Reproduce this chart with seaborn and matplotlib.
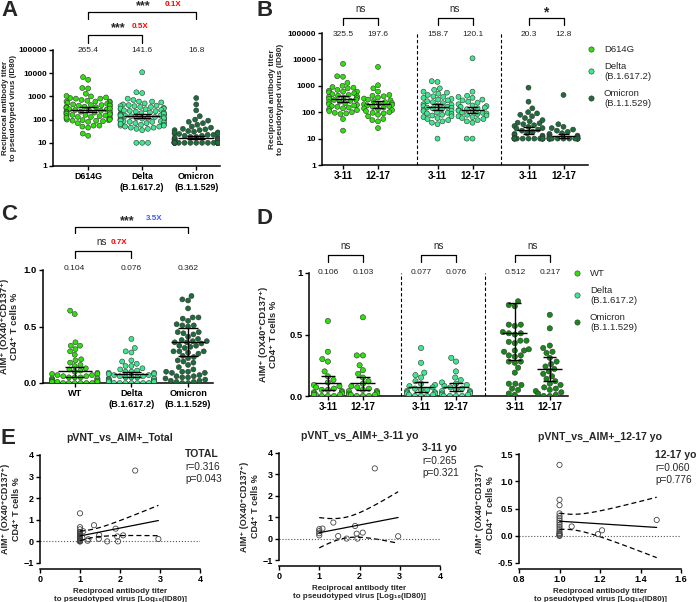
import warnings
import numpy as np
import pandas as pd
import matplotlib
matplotlib.use('Agg')
import matplotlib.pyplot as plt
import seaborn as sns
from matplotlib.lines import Line2D
from matplotlib.transforms import blended_transform_factory

warnings.filterwarnings('ignore')

# ---------------- data ----------------
variants = ['D614G', 'Delta', 'Omicron']
variant_ticks = ['D614G', 'Delta\n(B.1.617.2)', 'Omicron\n(B.1.1.529)']
aim_names = ['WT', 'Delta', 'Omicron']
aim_ticks = ['WT', 'Delta\n(B.1.617.2)', 'Omicron\n(B.1.1.529)']
age_ticks = ['3-11', '12-17', '3-11', '12-17', '3-11', '12-17']

# pseudovirus ID80 titres, per variant and age group
d614g_311 = [6800, 2300, 2200, 1300, 1000, 900, 850, 800, 700, 650, 600, 600, 560, 520, 480,
             450, 420, 400, 380, 360, 340, 320, 300, 290, 270, 250, 240, 220, 200, 190,
             180, 170, 160, 150, 140, 130, 120, 110, 100, 95, 90, 85, 55, 20]
d614g_1217 = [5200, 1050, 800, 600, 450, 420, 400, 360, 330, 300, 280, 260, 240, 220, 210,
              200, 190, 180, 170, 160, 150, 140, 130, 120, 110, 100, 95, 90, 80, 70,
              55, 50, 45, 25]
delta_311 = [1500, 1400, 800, 700, 600, 550, 500, 450, 400, 380, 350, 320, 300, 280, 260,
             240, 220, 200, 190, 180, 170, 160, 150, 145, 140, 130, 120, 115, 110, 100,
             95, 90, 85, 80, 75, 70, 65, 60, 55, 50, 45, 40, 35, 10]
delta_1217 = [11000, 600, 420, 380, 350, 300, 280, 250, 230, 200, 180, 170, 160, 150, 140,
              130, 120, 115, 110, 100, 95, 90, 85, 80, 75, 70, 65, 60, 55, 50,
              45, 40, 10, 10]
omi_311 = [850, 250, 140, 100, 90, 80, 70, 60, 50, 45, 40, 38, 35, 32, 30,
           28, 25, 24, 22, 20, 18, 16, 15, 14, 13, 12, 11, 10, 10, 10,
           10, 10, 10, 10, 10, 10, 10, 10, 10, 10, 10, 10]
omi_1217 = [450, 35, 28, 25, 22, 20, 18, 16, 15, 14, 13, 12, 12, 11, 11,
            10, 10, 10, 10, 10, 10, 10, 10, 10, 10, 10, 10, 10, 10, 10]

a_gmt = [265.4, 141.6, 16.8]
a_lo = [205, 112, 14.2]
a_hi = [340, 180, 19.8]
a_fold = ['0.5X', '0.1X']
b_gmt = [325.5, 197.6, 158.7, 120.1, 20.3, 12.8]
b_lo = [250, 145, 120, 90, 15.5, 10.8]
b_hi = [420, 265, 210, 160, 26.5, 15.5]
b_sig = ['ns', 'ns', '*']

# AIM+ CD4 T cells %, per variant and age group
wt_311 = [0.61, 0.36, 0.30, 0.28, 0.20, 0.16, 0.13, 0.11, 0.09, 0.08, 0.07, 0.06, 0.05,
          0.05, 0.04, 0.03, 0.03, 0.02, 0.02, 0.01, 0.01, 0.01, 0.00, 0.00, 0.00]
wt_1217 = [0.64, 0.33, 0.33, 0.25, 0.21, 0.18, 0.15, 0.12, 0.10, 0.08, 0.07, 0.06, 0.05,
           0.04, 0.04, 0.03, 0.02, 0.02, 0.01, 0.01, 0.01, 0.00, 0.00, 0.00]
dl_311 = [0.39, 0.27, 0.19, 0.17, 0.15, 0.12, 0.10, 0.09, 0.08, 0.07, 0.06, 0.05, 0.05,
          0.04, 0.03, 0.03, 0.02, 0.02, 0.01, 0.01, 0.00, 0.00, 0.00]
dl_1217 = [0.31, 0.28, 0.20, 0.15, 0.13, 0.11, 0.10, 0.09, 0.08, 0.07, 0.06, 0.05, 0.04,
           0.04, 0.03, 0.02, 0.02, 0.01, 0.01, 0.00, 0.00, 0.00, 0.00]
om_311 = [0.77, 0.74, 0.73, 0.58, 0.58, 0.57, 0.52, 0.51, 0.51, 0.50, 0.45, 0.45, 0.44,
          0.43, 0.38, 0.37, 0.37, 0.36, 0.33, 0.33, 0.32, 0.28, 0.28, 0.27, 0.23, 0.19,
          0.10, 0.10, 0.09, 0.06, 0.05, 0.02, 0.01]
om_1217 = [0.66, 0.55, 0.41, 0.39, 0.36, 0.35, 0.31, 0.28, 0.26, 0.24, 0.22, 0.20, 0.18,
           0.16, 0.14, 0.12, 0.10, 0.09, 0.07, 0.06, 0.05, 0.04, 0.03, 0.02, 0.01, 0.00, 0.00]

c_mean = [0.104, 0.076, 0.362]
c_lo = [0.05, 0.055, 0.235]
c_hi = [0.14, 0.10, 0.49]
d_mean = [0.106, 0.103, 0.077, 0.076, 0.512, 0.217]
d_lo = [0.05, 0.05, 0.035, 0.04, 0.29, 0.12]
d_hi = [0.16, 0.155, 0.11, 0.105, 0.756, 0.317]
d_sig = ['ns', 'ns', 'ns']

# correlation pVNT (log10 ID80) vs AIM+ %
e311_x = [1.00, 1.00, 1.00, 1.00, 1.08, 1.35, 1.47, 1.68, 1.89, 1.93, 1.95, 2.08, 2.38, 2.96]
e311_y = [0.44, 0.35, 0.25, 0.15, 0.47, 0.75, 0.12, 0.00, 0.59, 0.23, 0.00, 0.28, 3.28, 0.11]
e1217_x = [1.00, 1.00, 1.00, 1.00, 1.00, 1.00, 1.00, 1.00, 1.00, 1.00, 1.00, 1.00, 1.00,
           1.00, 1.00, 1.00, 1.00, 1.06, 1.19, 1.21, 1.48]
e1217_y = [1.30, 0.66, 0.56, 0.41, 0.36, 0.32, 0.28, 0.24, 0.20, 0.16, 0.12, 0.08, 0.05,
           0.03, 0.02, 0.00, 0.00, 0.17, 0.03, 0.10, 0.29]
e_titles = ['pVNT_vs_AIM+_Total', 'pVNT_vs_AIM+_3-11 yo', 'pVNT_vs_AIM+_12-17 yo']
e_names = ['TOTAL', '3-11 yo', '12-17 yo']
e_r = ['0.316', '0.265', '0.060']
e_p = ['0.043', '0.321', '0.776']

# ---------------- style ----------------
sns.set_style('ticks')
plt.rcParams['font.family'] = ['Liberation Sans', 'DejaVu Sans']
plt.rcParams['axes.edgecolor'] = 'black'
plt.rcParams['xtick.color'] = 'black'
plt.rcParams['ytick.color'] = 'black'

pal_ab = {'D614G': '#2ee00c', 'Delta': '#3ee88e', 'Omicron': '#1b6e3a'}
pal_c = {'WT': '#2ee00c', 'Delta': '#3ee88e', 'Omicron': '#1b6e3a'}
pal_d = {'WT': '#2ee00c', 'Delta': '#3ee88e', 'Omicron': '#168a16'}

W, H = 696, 602
fig = plt.figure(figsize=(W / 100, H / 100), dpi=100)


def fx(px):
    return px / W


def fy(py):
    return 1 - py / H


def add_ax(l, t, r, b):
    return fig.add_axes([fx(l), fy(b), (r - l) / W, (b - t) / H])


def style(ax, xfs=7, yfs=6):
    sns.despine(ax=ax)
    for s in ['left', 'bottom']:
        ax.spines[s].set_linewidth(1.1)
    ax.tick_params(length=3, width=1, pad=1.5)
    ax.tick_params(axis='x', labelsize=xfs)
    ax.tick_params(axis='y', labelsize=yfs)
    for lbl in ax.get_xticklabels() + ax.get_yticklabels():
        lbl.set_fontweight('bold')


def bracket(ax, x1, x2, ytop, ybot):
    tr = blended_transform_factory(ax.transData, fig.transFigure)
    ax.plot([x1, x1, x2, x2], [fy(ybot), fy(ytop), fy(ytop), fy(ybot)],
            transform=tr, color='black', lw=0.9, clip_on=False)


def top_labels(ax, xs, vals, ypix, fmt):
    tr = blended_transform_factory(ax.transData, fig.transFigure)
    for x, v in zip(xs, vals):
        ax.text(x, fy(ypix), fmt.format(v), transform=tr, ha='center', va='center',
                fontsize=6, color='#222222')


def mean_bars(ax, xs, m, lo, hi, half, cap):
    for x, c, l, h in zip(xs, m, lo, hi):
        ax.hlines(c, x - half, x + half, color='black', lw=1.0, zorder=5)
        ax.vlines(x, l, h, color='black', lw=1.0, zorder=5)
        ax.hlines([l, h], x - cap, x + cap, color='black', lw=1.0, zorder=5)


def legend(ax, names, pal, labels, xpix, ypix):
    handles = [Line2D([], [], ls='none', marker='o', markersize=3.8, markerfacecolor=pal[n],
                      markeredgecolor='#333333', markeredgewidth=0.4) for n in names]
    ax.legend(handles, labels, loc='upper left', bbox_to_anchor=(fx(xpix), fy(ypix)),
              bbox_transform=fig.transFigure, frameon=False, fontsize=6.8, handlelength=1.0,
              handletextpad=0.9, labelspacing=0.8, borderpad=0, borderaxespad=0)


swarm_kw = dict(edgecolor='#333333', linewidth=0.4, legend=False)
aim_label = 'AIM⁺ (OX40⁺CD137⁺)\nCD4⁺ T cells %'
titer_label = 'Reciprocal antibody titer\nto pseudotyped virus (ID80)'

# ---------------- A ----------------
axA = add_ax(53, 50, 220, 166)
axA.set_yscale('log')
dfA = pd.DataFrame({
    'variant': ['D614G'] * (len(d614g_311) + len(d614g_1217))
    + ['Delta'] * (len(delta_311) + len(delta_1217))
    + ['Omicron'] * (len(omi_311) + len(omi_1217)),
    'titer': d614g_311 + d614g_1217 + delta_311 + delta_1217 + omi_311 + omi_1217})
sns.swarmplot(data=dfA, x='variant', y='titer', hue='variant', order=variants,
              palette=pal_ab, size=3.6, ax=axA, **swarm_kw)
mean_bars(axA, [0, 1, 2], a_gmt, a_lo, a_hi, 0.33, 0.17)
axA.set_xlim(-0.65, 2.44)
axA.set_ylim(1, 1e5)
axA.set_yticks([1, 10, 100, 1000, 10000, 100000])
axA.set_yticklabels(['1', '10', '100', '1000', '10000', '100000'])
axA.yaxis.set_minor_locator(matplotlib.ticker.NullLocator())
axA.set_xticks([0, 1, 2])
axA.set_xticklabels(variant_ticks)
axA.set_xlabel('')
axA.set_ylabel(titer_label, fontsize=5.8, fontweight='bold', labelpad=1)
style(axA, xfs=6.4)
top_labels(axA, [0, 1, 2], a_gmt, 50, '{:.1f}')
bracket(axA, 0, 1, 35, 43)
bracket(axA, 0, 2, 12, 19)
fig.text(fx(118), fy(28), '***', fontsize=9, fontweight='bold', ha='center', va='center')
fig.text(fx(140), fy(26), a_fold[0], fontsize=5.8, fontweight='bold', color='red', ha='center', va='center')
fig.text(fx(143), fy(6), '***', fontsize=9, fontweight='bold', ha='center', va='center')
fig.text(fx(173), fy(4), a_fold[1], fontsize=5.8, fontweight='bold', color='red', ha='center', va='center')

# ---------------- B ----------------
b_pos = [0, 1, 2.7, 3.7, 5.3, 6.3]
b_sets = [d614g_311, d614g_1217, delta_311, delta_1217, omi_311, omi_1217]
b_var = ['D614G', 'D614G', 'Delta', 'Delta', 'Omicron', 'Omicron']
axB = add_ax(322, 33, 588, 165)
axB.set_yscale('log')
dfB = pd.DataFrame({
    'pos': [p for p, s in zip(b_pos, b_sets) for _ in s],
    'variant': [v for v, s in zip(b_var, b_sets) for _ in s],
    'titer': [t for s in b_sets for t in s]})
sns.swarmplot(data=dfB, x='pos', y='titer', hue='variant', palette=pal_ab, native_scale=True,
              size=3.6, ax=axB, **swarm_kw)
mean_bars(axB, b_pos, b_gmt, b_lo, b_hi, 0.33, 0.17)
for xv in [2.1, 4.5]:
    axB.axvline(xv, ls='--', color='black', lw=0.8, dashes=(3, 2))
axB.set_xlim(-0.6, 7.0)
axB.set_ylim(1, 1e5)
axB.set_yticks([1, 10, 100, 1000, 10000, 100000])
axB.set_yticklabels(['1', '10', '100', '1000', '10000', '100000'])
axB.yaxis.set_minor_locator(matplotlib.ticker.NullLocator())
axB.set_xticks(b_pos)
axB.set_xticklabels(age_ticks)
axB.set_xlabel('')
axB.set_ylabel(titer_label, fontsize=6, fontweight='bold', labelpad=2)
style(axB)
top_labels(axB, b_pos, b_gmt, 35, '{:.1f}')
tr = blended_transform_factory(axB.transData, fig.transFigure)
for i, s in enumerate(b_sig):
    x1, x2 = b_pos[2 * i], b_pos[2 * i + 1]
    bracket(axB, x1, x2, 18, 25)
    axB.text((x1 + x2) / 2, fy(9 if s == 'ns' else 12), s, transform=tr, ha='center', va='center',
             fontsize=7 if s == 'ns' else 10, fontweight='normal' if s == 'ns' else 'bold')
legend(axB, variants, pal_ab, ['D614G', 'Delta\n(B.1.617.2)', 'Omicron\n(B.1.1.529)'], 586, 45)

# ---------------- C ----------------
axC = add_ax(43, 270, 213, 383)
dfC = pd.DataFrame({
    'variant': ['WT'] * (len(wt_311) + len(wt_1217)) + ['Delta'] * (len(dl_311) + len(dl_1217))
    + ['Omicron'] * (len(om_311) + len(om_1217)),
    'aim': wt_311 + wt_1217 + dl_311 + dl_1217 + om_311 + om_1217})
sns.swarmplot(data=dfC, x='variant', y='aim', hue='variant', order=aim_names, palette=pal_c,
              size=3.6, ax=axC, **swarm_kw)
mean_bars(axC, [0, 1, 2], c_mean, c_lo, c_hi, 0.3, 0.17)
axC.set_xlim(-0.56, 2.44)
axC.set_ylim(0, 1.0)
axC.set_yticks([0, 0.5, 1.0])
axC.set_yticklabels(['0.0', '0.5', '1.0'])
axC.set_xticks([0, 1, 2])
axC.set_xticklabels(aim_ticks)
axC.set_xlabel('')
axC.set_ylabel(aim_label, fontsize=6.8, fontweight='bold', labelpad=3)
style(axC, xfs=6.6, yfs=6.8)
top_labels(axC, [0, 1, 2], c_mean, 269, '{:.3f}')
bracket(axC, 0, 1, 251, 258)
bracket(axC, 0, 2, 227, 233)
fig.text(fx(102), fy(242), 'ns', fontsize=7, ha='center', va='center')
fig.text(fx(119), fy(242), '0.7X', fontsize=5.8, fontweight='bold', color='red', ha='center', va='center')
fig.text(fx(127), fy(221), '***', fontsize=9, fontweight='bold', ha='center', va='center')
fig.text(fx(154), fy(219), '3.5X', fontsize=5.8, fontweight='bold', color='#3d5afe', ha='center', va='center')

# ---------------- D ----------------
d_pos = [0, 1, 2.66, 3.66, 5.34, 6.34]
d_sets = [wt_311, wt_1217, dl_311, dl_1217, om_311, om_1217]
d_var = ['WT', 'WT', 'Delta', 'Delta', 'Omicron', 'Omicron']
axD = add_ax(309, 273, 568, 396)
dfD = pd.DataFrame({
    'pos': [p for p, s in zip(d_pos, d_sets) for _ in s],
    'variant': [v for v, s in zip(d_var, d_sets) for _ in s],
    'aim': [t for s in d_sets for t in s]})
sns.swarmplot(data=dfD, x='pos', y='aim', hue='variant', palette=pal_d, native_scale=True,
              size=3.8, ax=axD, **swarm_kw)
mean_bars(axD, d_pos, d_mean, d_lo, d_hi, 0.36, 0.19)
for xv in [2.1, 4.5]:
    axD.axvline(xv, ls='--', color='black', lw=0.8, dashes=(3, 2))
axD.set_xlim(-0.54, 6.86)
axD.set_ylim(0, 1.0)
axD.set_yticks([0, 0.5, 1.0])
axD.set_yticklabels(['0.0', '0.5', '1'])
axD.set_xticks(d_pos)
axD.set_xticklabels(age_ticks)
axD.set_xlabel('')
axD.set_ylabel(aim_label, fontsize=6.8, fontweight='bold', labelpad=8)
style(axD, yfs=6.8)
top_labels(axD, d_pos, d_mean, 272, '{:.3f}')
trD = blended_transform_factory(axD.transData, fig.transFigure)
for i, s in enumerate(d_sig):
    x1, x2 = d_pos[2 * i], d_pos[2 * i + 1]
    bracket(axD, x1, x2, 255, 262)
    axD.text((x1 + x2) / 2, fy(246), s, transform=trD, ha='center', va='center', fontsize=7)
legend(axD, aim_names, pal_d, ['WT', 'Delta\n(B.1.617.2)', 'Omicron\n(B.1.1.529)'], 572, 269)


# ---------------- E ----------------
def reg_panel(ax, x, y, title, name, r, p, tx, ty):
    x = np.asarray(x)
    y = np.asarray(y)
    sns.regplot(x=x, y=y, ax=ax, ci=None, truncate=True,
                scatter_kws=dict(s=14, color='none', edgecolors='#444444', linewidths=0.6, alpha=1),
                line_kws=dict(color='black', lw=0.9))
    slope, icpt = np.polyfit(x, y, 1)
    n = len(x)
    resid = y - (icpt + slope * x)
    s_err = np.sqrt(np.sum(resid ** 2) / (n - 2))
    xs = np.linspace(x.min(), x.max(), 60)
    df = n - 2
    t = 1.96 + 2.37 / df + 2.8 / df ** 2
    half = t * s_err * np.sqrt(1 / n + (xs - x.mean()) ** 2 / np.sum((x - x.mean()) ** 2))
    fit = icpt + slope * xs
    ax.plot(xs, fit + half, color='black', lw=0.9, ls='--', dashes=(4, 2.5))
    ax.plot(xs, fit - half, color='black', lw=0.9, ls='--', dashes=(4, 2.5))
    ax.axhline(0, color='#555555', lw=0.8, ls=':')
    ax.spines['bottom'].set_position(('outward', 4))
    ax.set_xlabel('Reciprocal antibody titer\nto pseudotyped virus [Log₁₀(ID80)]',
                  fontsize=5.8, fontweight='bold', labelpad=3)
    ax.set_ylabel(aim_label, fontsize=6.5, fontweight='bold', labelpad=2)
    style(ax, xfs=6.5, yfs=6.5)
    cx = (ax.get_position().x0 + ax.get_position().x1) / 2
    fig.text(cx, ax.get_position().y1 + 17 / H, title, fontsize=7.6, fontweight='bold',
             ha='center', va='center')
    fig.text(fx(tx), fy(ty), name, fontsize=7.5, fontweight='bold', ha='left', va='center')
    fig.text(fx(tx), fy(ty + 13), 'r=' + r, fontsize=7.3, ha='left', va='center')
    fig.text(fx(tx), fy(ty + 25), 'p=' + p, fontsize=7.3, ha='left', va='center')


axE1 = add_ax(40, 455, 200, 563)
axE1.set_xlim(0, 4)
axE1.set_ylim(-1, 4)
axE1.set_xticks([0, 1, 2, 3, 4])
axE1.set_yticks([-1, 0, 1, 2, 3, 4])
reg_panel(axE1, e311_x + e1217_x, e311_y + e1217_y, e_titles[0], e_names[0], e_r[0], e_p[0], 185, 454)

axE2 = add_ax(279, 453, 440, 560)
axE2.set_xlim(0, 4)
axE2.set_ylim(-1, 4)
axE2.set_xticks([0, 1, 2, 3, 4])
axE2.set_yticks([-1, 0, 1, 2, 3, 4])
reg_panel(axE2, e311_x, e311_y, e_titles[1], e_names[1], e_r[1], e_p[1], 422, 448)

axE3 = add_ax(519, 454, 681, 563)
axE3.set_xlim(0.8, 1.6)
axE3.set_ylim(-0.5, 1.5)
axE3.set_xticks([0.8, 1.0, 1.2, 1.4, 1.6])
axE3.set_xticklabels(['0.8', '1.0', '1.2', '1.4', '1.6'])
axE3.set_yticks([-0.5, 0, 0.5, 1.0, 1.5])
axE3.set_yticklabels(['-0.5', '0.0', '0.5', '1.0', '1.5'])
reg_panel(axE3, e1217_x, e1217_y, e_titles[2], e_names[2], e_r[2], e_p[2], 655, 455)

# panel letters
for letter, (px, py) in zip('ABCDE', [(1, 10), (256, 11), (1, 214), (256, 219), (1, 439)]):
    fig.text(fx(px), fy(py), letter, fontsize=16, fontweight='bold', ha='left', va='center')

fig.savefig('out.png', dpi=100)
